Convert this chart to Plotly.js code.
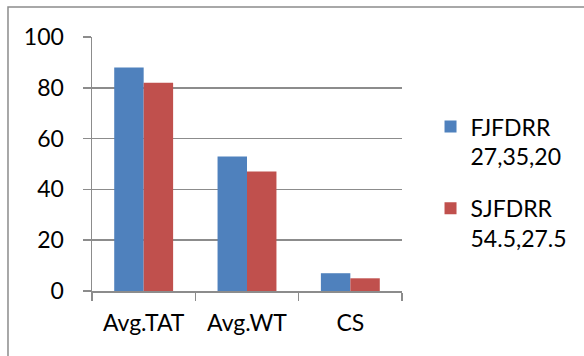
<!DOCTYPE html>
<html>
<head>
<meta charset="utf-8">
<script src="https://cdn.plot.ly/plotly-3.0.1.min.js"></script>
<style>
  html, body { margin: 0; padding: 0; background: #fff; }
  #chart { width: 584px; height: 356px; }
</style>
</head>
<body>
<div id="chart"></div>
<script>
// Scheduling metrics compared for the two round-robin variants
const categories = ['Avg.TAT', 'Avg.WT', 'CS'];
const fjfdrrValues = [88, 53, 7];
const sjfdrrValues = [82, 47, 5];
const seriesNames = ['FJFDRR<br>27,35,20', 'SJFDRR<br>54.5,27.5'];
const yTicks = [0, 20, 40, 60, 80, 100];

const fontFamily = 'Lato, "Open Sans", "Liberation Sans", sans-serif';
const fontSize = 23;
const gridGrey = '#8c8c8c';

const traces = [
  {
    type: 'bar',
    name: seriesNames[0],
    legendgroup: 'fjfdrr',
    x: categories,
    y: fjfdrrValues,
    marker: { color: '#4F81BD', line: { width: 0 } },
    hoverinfo: 'y'
  },
  {
    type: 'bar',
    name: seriesNames[1],
    legendgroup: 'sjfdrr',
    x: categories,
    y: sjfdrrValues,
    marker: { color: '#C0504D', line: { width: 0 } },
    hoverinfo: 'y'
  }
];

const layout = {
  width: 584,
  height: 356,
  margin: { l: 92, r: 182, t: 37, b: 65, pad: 0 },
  paper_bgcolor: '#ffffff',
  plot_bgcolor: '#ffffff',
  font: { family: fontFamily, size: fontSize, color: '#000000' },
  barmode: 'group',
  bargap: 0.43,
  bargroupgap: 0,
  showlegend: true,
  legend: {
    x: 1.092,
    xanchor: 'left',
    y: 0.732,
    yanchor: 'top',
    valign: 'top',
    tracegroupgap: 19,
    itemwidth: 30,
    font: { family: fontFamily, size: fontSize, color: '#000000' },
    bgcolor: 'rgba(0,0,0,0)'
  },
  xaxis: {
    type: 'category',
    showline: true,
    linecolor: gridGrey,
    linewidth: 1.5,
    ticks: 'outside',
    tickson: 'boundaries',
    ticklen: 8,
    tickwidth: 1.5,
    tickcolor: gridGrey,
    showgrid: false,
    zeroline: false,
    ticklabelstandoff: 11,
    tickfont: { family: fontFamily, size: fontSize, color: '#000000' }
  },
  yaxis: {
    range: [0, 100],
    tickvals: yTicks,
    ticktext: yTicks.map(String),
    showline: true,
    linecolor: gridGrey,
    linewidth: 1.5,
    ticks: 'outside',
    ticklen: 8,
    tickwidth: 1.5,
    tickcolor: gridGrey,
    showgrid: true,
    gridcolor: gridGrey,
    gridwidth: 1.5,
    zeroline: false,
    ticklabelstandoff: 14,
    tickfont: { family: fontFamily, size: fontSize, color: '#000000' }
  },
  shapes: [
    // outer frame around the whole chart
    {
      type: 'rect',
      xref: 'paper', yref: 'paper',
      x0: -0.271, x1: 1.7,
      y0: -0.35, y1: 1.118,
      line: { color: '#8c8c8c', width: 1.5 },
      fillcolor: 'rgba(0,0,0,0)',
      layer: 'below'
    }
  ]
};

Plotly.newPlot('chart', traces, layout, { displayModeBar: false, staticPlot: true });
</script>
</body>
</html>
